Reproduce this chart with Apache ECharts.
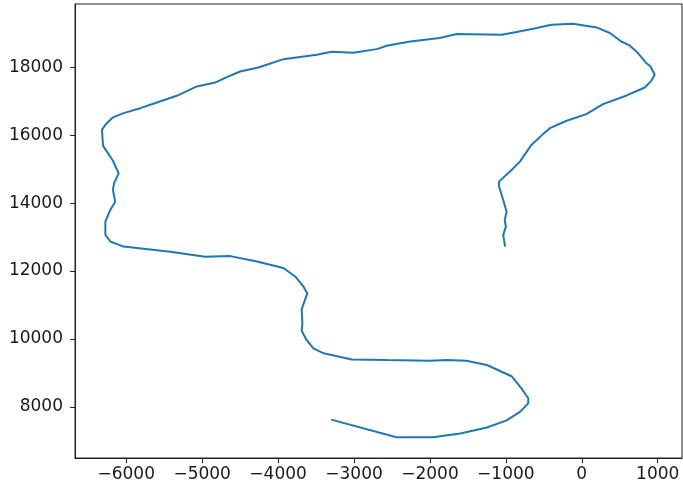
<!DOCTYPE html>
<html>
<head>
<meta charset="utf-8">
<script src="https://cdn.jsdelivr.net/npm/echarts@6/dist/echarts.min.js"></script>
<style>
  html, body { margin: 0; padding: 0; background: #fff; }
  #chart { width: 683px; height: 486px; }
</style>
</head>
<body>
<div id="chart"></div>
<script>
// path, in order from the lower end
var xs = [-3300, -2440, -1960, -1600, -1250, -990, -815, -705, -705, -795,
  -925, -1250, -1520, -1780, -2000, -2570, -3030, -3400, -3535, -3625,
  -3690, -3680, -3690, -3615, -3665, -3775, -3930, -4280, -4630, -4960,
  -5420, -6035, -6210, -6275, -6275, -6210, -6145, -6175, -6160, -6100,
  -6175, -6305, -6320, -6275, -6175, -6035, -5815, -5595, -5335, -5070,
  -4830, -4675, -4500, -4260, -4190, -3930, -3490, -3295, -3010, -2700,
  -2570, -2260, -1870, -1650, -1055, -860, -640, -400, -115, 195,
  370, 520, 630, 740, 850, 905, 960, 915, 830, 590,
  280, 60, -200, -420, -510, -665, -815, -925, -1090, -1090,
  -1035, -990, -1015, -1000, -1035, -1010];
var ys = [7620, 7100, 7100, 7215, 7390, 7600, 7850, 8100, 8250, 8540,
  8900, 9230, 9355, 9375, 9355, 9375, 9395, 9575, 9720, 9970,
  10240, 10460, 10870, 11340, 11540, 11840, 12090, 12280, 12440, 12420,
  12570, 12720, 12870, 13065, 13460, 13800, 14040, 14390, 14590, 14880,
  15250, 15690, 16160, 16310, 16530, 16655, 16800, 16965, 17165, 17440,
  17555, 17715, 17880, 18000, 18050, 18245, 18375, 18460, 18435, 18540,
  18640, 18765, 18870, 18985, 18965, 19045, 19140, 19260, 19290, 19180,
  19015, 18765, 18650, 18425, 18130, 18030, 17785, 17605, 17410, 17175,
  16920, 16625, 16430, 16210, 16035, 15715, 15225, 14980, 14635, 14490,
  14095, 13750, 13505, 13310, 13065, 12720];
var xTicks = [-6000, -5000, -4000, -3000, -2000, -1000, 0, 1000];
var yTicks = [8000, 10000, 12000, 14000, 16000, 18000];

var pts = [];
for (var i = 0; i < xs.length; i++) {
  pts.push([xs[i], ys[i]]);
}

// plain numbers, real minus sign
function fmt(v) {
  return String(v).replace("-", "\u2212");
}

var chart = echarts.init(document.getElementById("chart"));
var labelStyle = {
  color: "#1a1a1a",
  fontFamily: "DejaVu Sans",
  fontSize: 17,
  formatter: fmt
};
chart.setOption({
  animation: false,
  grid: {
    left: 75,
    right: 1,
    top: 4,
    bottom: 28,
    show: true,
    borderColor: "#222",
    borderWidth: 1
  },
  xAxis: {
    type: "value",
    min: -6675,
    max: 1320,
    splitLine: { show: false },
    axisLine: { show: true, onZero: false, lineStyle: { color: "#222" } },
    axisTick: { show: true, length: 5, customValues: xTicks, lineStyle: { color: "#222" } },
    axisLabel: Object.assign({ margin: 8, customValues: xTicks }, labelStyle)
  },
  yAxis: {
    type: "value",
    min: 6490,
    max: 19870,
    splitLine: { show: false },
    axisLine: { show: true, onZero: false, lineStyle: { color: "#222" } },
    axisTick: { show: true, length: 5, customValues: yTicks, lineStyle: { color: "#222" } },
    axisLabel: Object.assign({ margin: 12, customValues: yTicks }, labelStyle)
  },
  series: [
    {
      type: "line",
      data: pts,
      showSymbol: false,
      lineStyle: { color: "#1f77b4", width: 2 }
    }
  ]
});
</script>
</body>
</html>
